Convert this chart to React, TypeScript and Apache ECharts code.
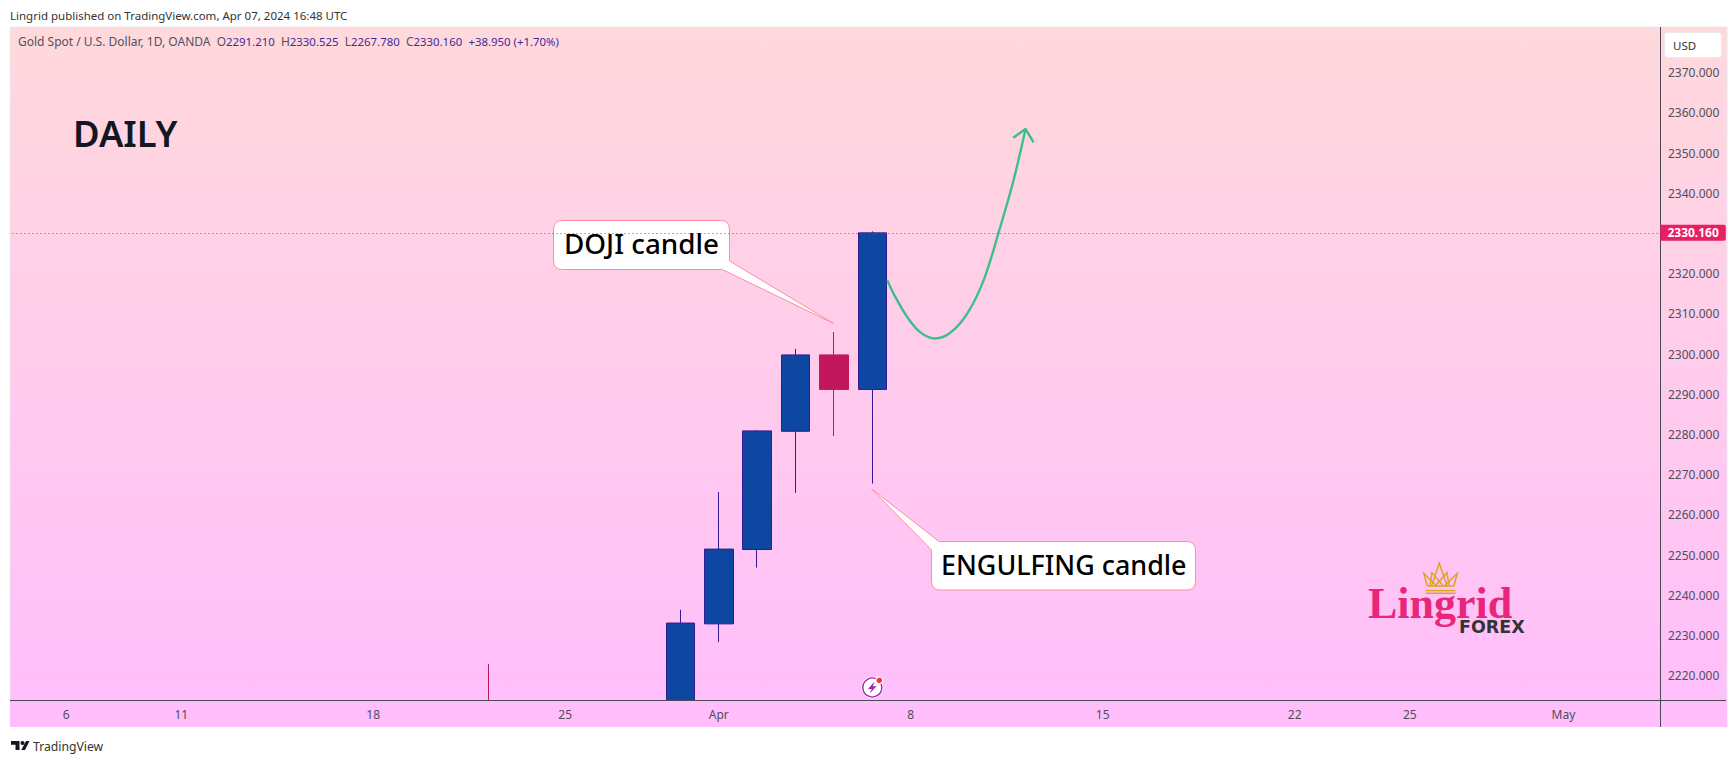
import React, { useEffect, useRef } from "react";
import * as echarts from "echarts";

// ---- data ----
const categories = [
  "Mar 5", "Mar 6", "Mar 7", "Mar 8", "Mar 11", "Mar 12", "Mar 13", "Mar 14", "Mar 15",
  "Mar 18", "Mar 19", "Mar 20", "Mar 21", "Mar 22", "Mar 25", "Mar 26", "Mar 27", "Mar 28",
  "Apr 1", "Apr 2", "Apr 3", "Apr 4", "Apr 5", "Apr 8", "Apr 9", "Apr 10", "Apr 11", "Apr 12",
  "Apr 15", "Apr 16", "Apr 17", "Apr 18", "Apr 19", "Apr 22", "Apr 23", "Apr 24", "Apr 25", "Apr 26",
  "Apr 29", "Apr 30", "May 1", "May 2", "May 3",
];
const timeLabels: Record<string, string> = {
  "Mar 6": "6", "Mar 11": "11", "Mar 18": "18", "Mar 25": "25", "Apr 1": "Apr",
  "Apr 8": "8", "Apr 15": "15", "Apr 22": "22", "Apr 25": "25", "May 1": "May",
};
// visible candles: date -> [open, close, low, high]
const candleDates = ["Mar 21", "Mar 28", "Apr 1", "Apr 2", "Apr 3", "Apr 4", "Apr 5"];
const candleOpen = [2205, 2194, 2232.9, 2251.4, 2280.8, 2299.8, 2291.21];
const candleClose = [2200, 2233.1, 2251.5, 2280.9, 2299.8, 2291.21, 2330.16];
const candleLow = [2195, 2191, 2228.4, 2246.9, 2265.5, 2279.6, 2267.78];
const candleHigh = [2222.9, 2236.4, 2265.7, 2281.1, 2301.3, 2305.5, 2330.525];

const priceTicks = [2220, 2230, 2240, 2250, 2260, 2270, 2280, 2290, 2300, 2310, 2320, 2340, 2350, 2360, 2370];
const lastPrice = 2330.16;

// projected path, in bar units and price
const pathBars = [22.89, 23.05, 23.41, 23.75, 24.14, 24.53, 24.98, 25.4, 25.785, 26.18, 26.49];
const pathPrice = [2318.4, 2315.1, 2309.2, 2305.4, 2303.9, 2305.3, 2310.2, 2318.4, 2330.1, 2343.3, 2356];
const arrowBars = [26.17, 26.49, 26.7];
const arrowPrice = [2353.8, 2356, 2352.7];

const FONT = '"Noto Sans", sans-serif';
const AXIS = "#4f4f5c";
const GREEN = "#3DBE8B";

echarts.graphic.registerShape(
  "dojiCallout",
  echarts.graphic.extendPath(
    "M562.5 220.5 H720.5 Q729.5 220.5 729.5 229.5 V261 L833.3 323.3 L722.3 269.5 H562.5 Q553.5 269.5 553.5 260.5 V229.5 Q553.5 220.5 562.5 220.5 Z",
    {}
  )
);
echarts.graphic.registerShape(
  "engulfCallout",
  echarts.graphic.extendPath(
    "M939 541.5 L871.7 489 L931.5 550 V581 Q931.5 590 940.5 590 H1186.5 Q1195.5 590 1195.5 581 V550.5 Q1195.5 541.5 1186.5 541.5 Z",
    {}
  )
);

const crownLines = [
  [[232, 108], [222, 70], [260, 108]],
  [[240, 108], [246, 68], [280, 108]],
  [[245, 108], [268, 40], [292, 108]],
  [[298, 108], [291, 68], [256, 108]],
  [[312, 108], [322, 70], [284, 108]],
  [[232, 108], [312, 108]],
  [[227, 122], [317, 122]],
  [[227, 130], [317, 130]],
];

export default function App() {
  const ref = useRef<HTMLDivElement>(null);
  useEffect(() => {
    document.body.style.margin = "0";
    const chart = echarts.init(ref.current!, undefined, { renderer: "svg" });
    const candleData = categories.map((c) => {
      const i = candleDates.indexOf(c);
      return i < 0 ? "-" : [candleOpen[i], candleClose[i], candleLow[i], candleHigh[i]];
    });
    const legendVal = (s: string) => `{v|${s}}`;
    const frameGradient = () =>
      new echarts.graphic.LinearGradient(
        0, 27, 0, 727,
        [
          { offset: 0, color: "#FFD9DC" },
          { offset: 1, color: "#FFBEFC" },
        ],
        true
      );
    chart.setOption({
      animation: false,
      backgroundColor: "#ffffff",
      grid: { left: 8.5, right: 76.6, top: 27, bottom: 63 },
      xAxis: [
        {
          type: "category",
          data: categories,
          boundaryGap: true,
          z: 6,
          axisLine: { show: false },
          axisTick: { show: false },
          splitLine: { show: false },
          axisLabel: {
            interval: (_: number, v: string) => v in timeLabels,
            formatter: (v: string) => timeLabels[v] ?? "",
            color: AXIS,
            fontFamily: FONT,
            fontSize: 12,
            margin: 8,
            hideOverlap: false,
          },
        },
        { type: "value", min: 0, max: categories.length, show: false },
      ],
      yAxis: {
        type: "value",
        position: "right",
        min: 2213.96,
        max: 2381.37,
        z: 6,
        axisLine: { show: false },
        axisTick: { show: false },
        splitLine: { show: false },
        axisLabel: {
          customValues: priceTicks,
          formatter: (v: number) => v.toFixed(3),
          color: AXIS,
          fontFamily: FONT,
          fontSize: 12,
          margin: 8.6,
        },
      },
      series: [
        {
          type: "candlestick",
          data: candleData,
          barWidth: 29,
          itemStyle: {
            color: "#0D47A1",
            color0: "#C2185B",
            borderColor: "#311B92",
            borderColor0: "#C2185B",
            borderWidth: 1,
          },
          markLine: {
            silent: true,
            symbol: "none",
            animation: false,
            lineStyle: { color: "#E91E63", type: [1, 3], width: 1 },
            label: {
              show: true,
              position: "end",
              distance: 1,
              formatter: "2330.160",
              color: "#fff",
              fontFamily: FONT,
              fontWeight: "bold",
              fontSize: 12,
              backgroundColor: "#E91E63",
              borderRadius: [0, 2, 2, 0],
              padding: [2, 7, 2, 7],
            },
            data: [{ yAxis: lastPrice }],
          },
        },
        {
          type: "line",
          xAxisIndex: 1,
          data: pathBars.map((b, i) => [b, pathPrice[i]]),
          smooth: 0.35,
          showSymbol: false,
          symbol: "none",
          lineStyle: { color: GREEN, width: 2.4 },
          z: 3,
        },
        {
          type: "line",
          xAxisIndex: 1,
          data: arrowBars.map((b, i) => [b, arrowPrice[i]]),
          showSymbol: false,
          symbol: "none",
          lineStyle: { color: GREEN, width: 2.4 },
          z: 3,
        },
      ],
      graphic: [
        // chart frame with gradient
        {
          type: "rect", z: -10,
          shape: { x: 10, y: 27, width: 1717, height: 700 },
          style: { fill: frameGradient(), stroke: "#E6E8F0", lineWidth: 1 },
        },
        // panel strips that hide the parts of candles below the price scale
        { type: "rect", z: 4, shape: { x: 10, y: 700.5, width: 1717, height: 27 }, style: { fill: frameGradient() } },
        { type: "rect", z: 4, shape: { x: 0, y: 727, width: 1736, height: 36 }, style: { fill: "#fff" } },
        { type: "rect", z: 50, shape: { x: 0, y: 27, width: 9.5, height: 700 }, style: { fill: "#fff" } },
        { type: "line", z: 5, shape: { x1: 10, y1: 700.5, x2: 1726, y2: 700.5 }, style: { stroke: "#4a4a55", lineWidth: 1 } },
        { type: "line", z: 5, shape: { x1: 1660.5, y1: 27, x2: 1660.5, y2: 727 }, style: { stroke: "#4a4a55", lineWidth: 1 } },
        // header / footer
        { type: "text", z: 5, x: 10, y: 15, style: { text: "Lingrid published on TradingView.com, Apr 07, 2024 16:48 UTC", fill: "#333", font: `11.5px ${FONT}`, verticalAlign: "middle" } },
        { type: "text", z: 5, x: 33, y: 746, style: { text: "TradingView", fill: "#333", font: `12.2px ${FONT}`, verticalAlign: "middle" } },
        { type: "polygon", z: 5, shape: { points: [[11, 741], [19.5, 741], [19.5, 750], [15.5, 750], [15.5, 744.7], [11, 744.7]] }, style: { fill: "#131722" } },
        { type: "circle", z: 5, shape: { cx: 22.5, cy: 743, r: 2 }, style: { fill: "#131722" } },
        { type: "polygon", z: 5, shape: { points: [[26, 741], [29.5, 741], [25, 750], [21.3, 750]] }, style: { fill: "#131722" } },
        // legend
        {
          type: "text", z: 5, x: 18, y: 41.5,
          style: {
            text:
              "Gold Spot / U.S. Dollar, 1D, OANDA  O" + legendVal("2291.210") + "  H" + legendVal("2330.525") + "  L" + legendVal("2267.780") + "  C" + legendVal("2330.160") + "  " + legendVal("+38.950 (+1.70%)"),
            fill: "#50535E",
            font: `12px ${FONT}`,
            verticalAlign: "middle",
            rich: { v: { fill: "#3F2A9C", font: `11.4px ${FONT}` } },
          },
        },
        // DAILY
        { type: "text", z: 5, x: 73, y: 133, style: { text: "DAILY", fill: "#131722", font: `600 36.4px ${FONT}`, verticalAlign: "middle" } },
        // USD box
        { type: "rect", z: 5, shape: { x: 1664.5, y: 32.5, width: 57, height: 25, r: 3 }, style: { fill: "#fff", stroke: "#F0E6EE", lineWidth: 1 } },
        { type: "text", z: 6, x: 1673, y: 45, style: { text: "USD", fill: "#333", font: `11.5px ${FONT}`, verticalAlign: "middle" } },
        // callouts
        { type: "dojiCallout", z: 1, style: { fill: "#fff", stroke: "#FF8DA1", lineWidth: 1 } },
        { type: "text", z: 1, x: 564, y: 243, style: { text: "DOJI candle", fill: "#000", font: `500 27.8px ${FONT}`, verticalAlign: "middle" } },
        { type: "engulfCallout", z: 1, style: { fill: "#fff", stroke: "#FF8DA1", lineWidth: 1 } },
        { type: "text", z: 1, x: 941, y: 564, style: { text: "ENGULFING candle", fill: "#000", font: `500 26.9px ${FONT}`, verticalAlign: "middle" } },
        // flash icon
        { type: "circle", z: 5, shape: { cx: 872.3, cy: 687.5, r: 11 }, style: { fill: "#fff" } },
        { type: "circle", z: 5, shape: { cx: 872.3, cy: 687.5, r: 9.5 }, style: { fill: "#fff", stroke: "#9C27B0", lineWidth: 1.4 } },
        { type: "polygon", z: 6, shape: { points: [[874.5, 681.5], [868, 689], [871.7, 689], [869.8, 693.5], [876.5, 686.3], [872.8, 686.3]] }, style: { fill: "#9C27B0" } },
        { type: "circle", z: 6, shape: { cx: 879.3, cy: 680.3, r: 4 }, style: { fill: "#fff" } },
        { type: "circle", z: 7, shape: { cx: 879.3, cy: 680.3, r: 2.8 }, style: { fill: "#F23645" } },
        // logo
        { type: "text", z: 5, x: 1368, y: 603, style: { text: "Lingrid", fill: "#E8277A", font: 'bold 44px "Liberation Serif", serif', lineHeight: 32, verticalAlign: "middle" } },
        { type: "text", z: 6, x: 1459, y: 627, style: { text: "FOREX", fill: "#333333", font: 'bold 17.5px "DejaVu Sans", sans-serif', lineHeight: 13, verticalAlign: "middle" } },
        {
          type: "group", z: 5, x: 1350, y: 550, scaleX: 1 / 3, scaleY: 1 / 3,
          children: crownLines.map((pts) => ({
            type: "polyline", z: 5,
            shape: { points: pts },
            style: { stroke: "#D9A520", lineWidth: 4.4, fill: "none" },
          })),
        },
      ],
    });
    return () => chart.dispose();
  }, []);
  return <div ref={ref} style={{ position: "absolute", left: 0, top: 0, width: 1736, height: 763 }} />;
}
